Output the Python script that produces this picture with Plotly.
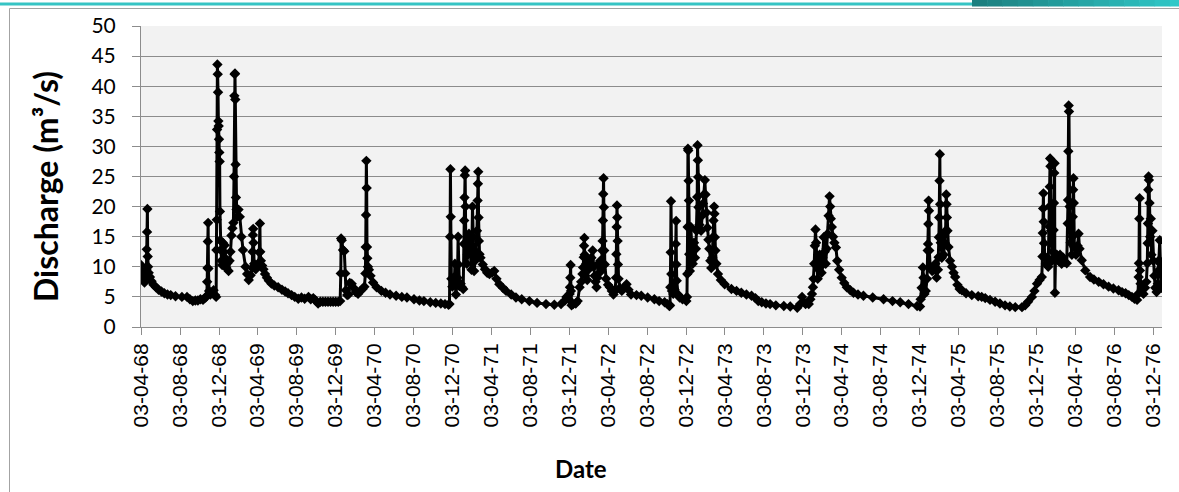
import plotly.graph_objects as go

# ---------------- data ----------------
season_1968 = [
    ("1968-04-03", 10.3), ("1968-04-05", 9.0), ("1968-04-08", 8.3), ("1968-04-11", 7.9),
    ("1968-04-14", 7.4), ("1968-04-17", 8.6), ("1968-04-20", 9.6), ("1968-04-21", 12.9),
    ("1968-04-22", 15.8), ("1968-04-23", 19.6), ("1968-04-24", 11.7), ("1968-04-25", 10.0),
    ("1968-04-27", 9.0), ("1968-05-01", 8.3), ("1968-05-06", 7.6), ("1968-05-12", 7.0),
    ("1968-05-20", 6.6), ("1968-05-28", 6.2), ("1968-06-06", 5.9), ("1968-06-15", 5.6),
    ("1968-06-25", 5.4), ("1968-07-05", 5.3), ("1968-07-20", 5.1), ("1968-08-09", 5.0),
    ("1968-08-25", 5.0), ("1968-09-03", 4.6), ("1968-09-12", 4.3), ("1968-09-20", 4.4),
    ("1968-09-28", 4.4), ("1968-10-06", 4.6), ("1968-10-14", 4.5), ("1968-10-22", 4.9),
    ("1968-10-26", 5.2), ("1968-10-27", 7.5), ("1968-10-28", 9.8), ("1968-10-29", 14.2),
    ("1968-10-30", 17.3), ("1968-10-31", 9.7), ("1968-11-02", 6.0), ("1968-11-06", 5.4),
    ("1968-11-11", 5.7), ("1968-11-16", 6.1), ("1968-11-21", 5.3), ("1968-11-24", 5.0),
    ("1968-11-25", 12.8), ("1968-11-26", 17.8), ("1968-11-27", 32.8), ("1968-11-28", 43.6),
    ("1968-11-29", 42.0), ("1968-11-30", 39.0), ("1968-12-01", 34.2), ("1968-12-02", 33.4),
    ("1968-12-03", 31.2), ("1968-12-04", 29.0), ("1968-12-05", 27.5), ("1968-12-06", 19.2),
    ("1968-12-07", 14.4), ("1968-12-09", 12.8), ("1968-12-11", 11.0), ("1968-12-13", 10.3),
    ("1968-12-15", 14.0), ("1968-12-17", 12.5), ("1968-12-19", 10.6), ("1968-12-21", 13.6),
    ("1968-12-23", 11.4), ("1968-12-26", 9.8), ("1968-12-29", 10.6), ("1969-01-02", 9.3),
    ("1969-01-05", 11.0), ("1969-01-08", 12.5), ("1969-01-11", 15.2), ("1969-01-14", 16.4),
    ("1969-01-17", 17.3), ("1969-01-19", 25.0), ("1969-01-20", 38.4), ("1969-01-21", 42.0),
    ("1969-01-22", 42.1), ("1969-01-23", 37.8), ("1969-01-24", 27.0), ("1969-01-25", 21.5),
    ("1969-01-27", 19.5), ("1969-01-29", 18.3), ("1969-02-02", 19.5), ("1969-02-06", 18.3),
    ("1969-02-11", 15.0), ("1969-02-16", 12.8), ("1969-02-24", 10.0), ("1969-03-01", 8.8),
    ("1969-03-06", 7.8), ("1969-03-12", 8.6), ("1969-03-17", 9.8), ("1969-03-18", 12.5),
    ("1969-03-19", 15.3), ("1969-03-20", 16.3), ("1969-03-21", 14.0), ("1969-03-23", 10.5),
    ("1969-03-28", 9.6), ("1969-04-03", 10.2), ("1969-04-06", 10.5), ("1969-04-08", 12.4),
    ("1969-04-10", 17.2), ("1969-04-11", 12.5), ("1969-04-13", 11.0), ("1969-04-17", 10.2),
    ("1969-04-21", 9.6),
]

season_1969 = [
    ("1969-04-26", 8.8), ("1969-05-02", 8.2), ("1969-05-08", 7.7), ("1969-05-16", 7.2),
    ("1969-05-25", 6.9), ("1969-06-06", 6.6), ("1969-06-18", 6.2), ("1969-06-28", 5.9),
    ("1969-07-07", 5.6), ("1969-07-18", 5.3), ("1969-07-28", 5.0), ("1969-08-08", 4.7),
    ("1969-08-18", 4.9), ("1969-08-28", 4.7), ("1969-09-09", 5.0), ("1969-09-16", 4.6),
    ("1969-09-24", 4.8), ("1969-10-01", 4.4), ("1969-10-09", 3.9), ("1969-10-16", 4.2),
    ("1969-10-24", 4.2), ("1969-11-01", 4.2), ("1969-11-09", 4.2), ("1969-11-17", 4.2),
    ("1969-11-25", 4.2), ("1969-12-03", 4.2), ("1969-12-11", 4.2), ("1969-12-17", 4.3),
    ("1969-12-19", 8.9), ("1969-12-20", 14.7), ("1969-12-22", 14.4), ("1969-12-26", 12.8),
    ("1969-12-30", 12.6), ("1970-01-02", 8.9), ("1970-01-04", 6.1), ("1970-01-08", 5.3),
    ("1970-01-12", 5.4), ("1970-01-16", 7.3), ("1970-01-22", 7.2), ("1970-01-28", 6.5),
    ("1970-02-04", 5.8), ("1970-02-11", 5.5), ("1970-02-18", 6.0), ("1970-02-25", 6.3),
    ("1970-03-03", 6.7), ("1970-03-06", 8.9), ("1970-03-07", 13.3), ("1970-03-08", 18.6),
    ("1970-03-09", 27.6), ("1970-03-10", 23.1), ("1970-03-11", 13.3), ("1970-03-12", 11.4),
    ("1970-03-14", 10.0), ("1970-03-17", 9.5), ("1970-03-22", 8.5), ("1970-03-30", 7.4),
    ("1970-04-10", 6.6), ("1970-04-25", 6.0), ("1970-05-08", 5.7), ("1970-05-22", 5.4),
    ("1970-06-10", 5.2), ("1970-06-28", 5.0), ("1970-07-14", 4.9), ("1970-08-05", 4.6),
    ("1970-08-22", 4.4), ("1970-09-05", 4.3), ("1970-09-25", 4.1), ("1970-10-12", 4.0),
    ("1970-10-28", 3.9), ("1970-11-10", 3.8), ("1970-11-21", 3.7),
]

season_1970 = [
    ("1970-11-24", 3.8), ("1970-11-26", 15.0), ("1970-11-27", 26.2), ("1970-11-28", 18.3),
    ("1970-11-30", 8.0), ("1970-12-03", 6.7), ("1970-12-06", 8.2), ("1970-12-09", 7.0),
    ("1970-12-11", 10.5), ("1970-12-14", 5.4), ("1970-12-17", 7.0), ("1970-12-19", 8.2),
    ("1970-12-21", 15.0), ("1970-12-22", 10.4), ("1970-12-25", 6.8), ("1970-12-29", 7.2),
    ("1971-01-02", 6.6), ("1971-01-06", 6.3), ("1971-01-08", 13.8), ("1971-01-09", 17.7),
    ("1971-01-10", 21.5), ("1971-01-11", 25.2), ("1971-01-12", 26.0), ("1971-01-13", 20.0),
    ("1971-01-14", 14.0), ("1971-01-17", 10.5), ("1971-01-20", 12.0), ("1971-01-24", 15.5),
    ("1971-01-28", 13.0), ("1971-02-01", 9.5), ("1971-02-04", 20.0), ("1971-02-06", 15.0),
    ("1971-02-09", 9.3), ("1971-02-12", 11.0), ("1971-02-15", 12.5), ("1971-02-18", 16.0),
    ("1971-02-20", 21.0), ("1971-02-21", 23.8), ("1971-02-22", 25.8), ("1971-02-23", 18.2),
    ("1971-02-24", 14.3), ("1971-02-26", 12.1), ("1971-03-01", 11.5), ("1971-03-08", 10.4),
    ("1971-03-15", 9.6), ("1971-03-22", 9.0), ("1971-03-29", 8.8), ("1971-04-06", 9.0),
    ("1971-04-13", 9.3), ("1971-04-20", 8.0), ("1971-04-29", 7.1), ("1971-05-10", 6.5),
    ("1971-05-20", 6.0), ("1971-06-05", 5.4), ("1971-06-20", 4.9), ("1971-07-08", 4.6),
    ("1971-08-01", 4.3), ("1971-08-25", 4.0), ("1971-09-22", 3.8), ("1971-10-18", 3.7),
    ("1971-11-08", 3.8), ("1971-11-20", 4.4), ("1971-11-25", 5.0),
]

season_1971 = [
    ("1971-12-02", 4.6), ("1971-12-05", 5.5), ("1971-12-06", 6.6), ("1971-12-07", 8.2),
    ("1971-12-08", 10.3), ("1971-12-09", 6.0), ("1971-12-11", 3.6), ("1971-12-16", 3.8),
    ("1971-12-24", 3.9), ("1971-12-30", 4.3), ("1972-01-05", 6.6), ("1972-01-10", 7.5),
    ("1972-01-14", 8.8), ("1972-01-16", 9.9), ("1972-01-18", 11.6), ("1972-01-19", 13.5),
    ("1972-01-20", 14.8), ("1972-01-21", 12.0), ("1972-01-23", 8.5), ("1972-01-26", 10.5),
    ("1972-01-29", 7.8), ("1972-02-01", 9.5), ("1972-02-04", 11.0), ("1972-02-07", 10.0),
    ("1972-02-11", 11.5), ("1972-02-15", 12.7), ("1972-02-18", 10.0), ("1972-02-21", 8.5),
    ("1972-02-24", 7.5), ("1972-02-27", 6.6), ("1972-03-01", 8.2), ("1972-03-04", 10.5),
    ("1972-03-07", 9.0), ("1972-03-10", 11.0), ("1972-03-13", 9.5), ("1972-03-16", 12.7),
    ("1972-03-17", 14.3), ("1972-03-18", 17.7), ("1972-03-19", 22.1), ("1972-03-20", 24.7),
    ("1972-03-21", 19.9), ("1972-03-22", 12.7), ("1972-03-24", 10.4), ("1972-03-28", 8.0),
    ("1972-04-03", 7.0), ("1972-04-09", 6.6), ("1972-04-15", 6.0), ("1972-04-20", 5.4),
    ("1972-04-25", 6.0), ("1972-04-28", 8.2), ("1972-04-29", 12.1), ("1972-04-30", 16.6),
    ("1972-05-01", 20.2), ("1972-05-02", 18.2), ("1972-05-03", 14.3), ("1972-05-04", 10.4),
    ("1972-05-06", 8.0), ("1972-05-10", 6.5), ("1972-05-16", 6.0), ("1972-05-24", 6.6),
    ("1972-05-31", 7.1), ("1972-06-06", 6.2), ("1972-06-14", 5.4), ("1972-07-01", 5.3),
    ("1972-07-16", 5.2), ("1972-08-05", 4.9), ("1972-08-26", 4.6), ("1972-09-10", 4.3),
    ("1972-09-27", 4.1), ("1972-10-06", 3.8), ("1972-10-12", 3.5), ("1972-10-14", 3.6),
]

season_1972 = [
    ("1972-10-15", 6.6), ("1972-10-16", 12.4), ("1972-10-17", 20.9), ("1972-10-18", 8.8),
    ("1972-10-20", 6.0), ("1972-10-24", 5.5), ("1972-10-28", 6.2), ("1972-10-31", 10.4),
    ("1972-11-01", 13.8), ("1972-11-02", 17.6), ("1972-11-03", 10.4), ("1972-11-04", 7.7),
    ("1972-11-08", 5.4), ("1972-11-13", 4.9), ("1972-11-22", 4.6), ("1972-12-04", 4.3),
    ("1972-12-06", 5.0), ("1972-12-07", 8.8), ("1972-12-08", 16.6), ("1972-12-09", 29.6),
    ("1972-12-10", 29.3), ("1972-12-11", 24.3), ("1972-12-12", 21.0), ("1972-12-13", 12.1),
    ("1972-12-15", 9.3), ("1972-12-18", 16.6), ("1972-12-21", 12.0), ("1972-12-24", 10.5),
    ("1972-12-28", 14.0), ("1972-12-31", 11.5), ("1973-01-03", 13.0), ("1973-01-05", 16.0),
    ("1973-01-07", 21.6), ("1973-01-08", 30.2), ("1973-01-09", 27.7), ("1973-01-10", 24.9),
    ("1973-01-11", 19.9), ("1973-01-14", 17.0), ("1973-01-19", 16.0), ("1973-01-22", 18.5),
    ("1973-01-25", 20.5), ("1973-01-28", 22.0), ("1973-01-31", 24.4), ("1973-02-02", 22.0),
    ("1973-02-05", 19.0), ("1973-02-08", 16.5), ("1973-02-11", 14.5), ("1973-02-14", 13.0),
    ("1973-02-17", 11.0), ("1973-02-20", 9.8), ("1973-02-23", 11.5), ("1973-02-25", 14.9),
    ("1973-02-27", 17.7), ("1973-03-01", 20.0), ("1973-03-02", 18.8), ("1973-03-03", 14.9),
    ("1973-03-05", 12.7), ("1973-03-08", 10.5), ("1973-03-13", 8.8), ("1973-03-22", 7.8),
    ("1973-04-03", 7.1), ("1973-04-24", 6.3), ("1973-05-10", 6.0), ("1973-05-25", 5.7),
    ("1973-06-10", 5.4), ("1973-06-26", 5.2), ("1973-07-08", 4.8), ("1973-07-17", 4.3),
    ("1973-07-28", 4.1), ("1973-08-10", 3.9), ("1973-08-23", 3.8), ("1973-09-10", 3.6),
    ("1973-10-05", 3.5), ("1973-10-25", 3.4), ("1973-11-16", 3.2), ("1973-11-25", 3.8),
    ("1973-12-01", 5.0), ("1973-12-05", 4.2), ("1973-12-12", 3.8), ("1973-12-22", 3.8),
]

season_1973 = [
    ("1973-12-27", 4.6), ("1974-01-01", 5.5), ("1974-01-04", 6.6), ("1974-01-06", 8.0),
    ("1974-01-08", 10.5), ("1974-01-10", 13.5), ("1974-01-12", 16.2), ("1974-01-14", 14.0),
    ("1974-01-16", 10.5), ("1974-01-19", 8.0), ("1974-01-22", 9.5), ("1974-01-25", 12.0),
    ("1974-01-28", 10.0), ("1974-01-31", 9.0), ("1974-02-03", 11.5), ("1974-02-07", 14.9),
    ("1974-02-10", 12.5), ("1974-02-13", 10.5), ("1974-02-16", 13.0), ("1974-02-19", 15.5),
    ("1974-02-22", 18.5), ("1974-02-25", 21.7), ("1974-02-27", 20.0), ("1974-03-01", 18.0),
    ("1974-03-04", 16.6), ("1974-03-08", 15.0), ("1974-03-12", 14.0), ("1974-03-17", 13.2),
    ("1974-03-21", 11.0), ("1974-03-27", 9.5), ("1974-04-04", 8.2), ("1974-04-12", 7.3),
    ("1974-04-20", 6.6), ("1974-05-01", 6.1), ("1974-05-11", 5.7), ("1974-05-25", 5.4),
    ("1974-06-11", 5.2), ("1974-07-10", 4.9), ("1974-08-13", 4.6), ("1974-09-10", 4.3),
    ("1974-10-04", 4.1), ("1974-10-30", 3.8), ("1974-11-26", 3.5), ("1974-12-05", 3.4),
]

season_1974 = [
    ("1974-12-07", 4.6), ("1974-12-10", 6.5), ("1974-12-14", 9.9), ("1974-12-16", 8.2),
    ("1974-12-19", 5.5), ("1974-12-23", 6.0), ("1974-12-27", 8.0), ("1974-12-29", 12.7),
    ("1974-12-30", 13.8), ("1974-12-31", 17.1), ("1975-01-01", 21.0), ("1975-01-02", 19.3),
    ("1975-01-03", 12.7), ("1975-01-06", 10.0), ("1975-01-12", 9.3), ("1975-01-17", 9.5),
    ("1975-01-22", 10.5), ("1975-01-26", 8.2), ("1975-01-30", 9.5), ("1975-02-01", 11.6),
    ("1975-02-02", 14.9), ("1975-02-03", 18.2), ("1975-02-04", 24.3), ("1975-02-05", 28.7),
    ("1975-02-06", 20.4), ("1975-02-08", 14.0), ("1975-02-11", 11.5), ("1975-02-14", 15.0),
    ("1975-02-17", 12.0), ("1975-02-20", 14.0), ("1975-02-23", 16.0), ("1975-02-25", 22.0),
    ("1975-02-26", 20.4), ("1975-02-27", 18.2), ("1975-03-01", 16.0), ("1975-03-04", 13.3),
    ("1975-03-09", 11.0), ("1975-03-15", 10.0), ("1975-03-20", 9.0), ("1975-03-25", 8.3),
    ("1975-04-01", 7.0), ("1975-04-08", 6.3), ("1975-04-15", 6.1), ("1975-04-28", 5.6),
    ("1975-05-16", 5.3), ("1975-06-05", 5.1), ("1975-06-16", 5.0), ("1975-06-27", 4.8),
    ("1975-07-12", 4.5), ("1975-07-28", 4.2), ("1975-08-12", 3.9), ("1975-08-28", 3.6),
    ("1975-09-12", 3.4), ("1975-09-29", 3.3), ("1975-10-20", 3.3), ("1975-10-30", 3.6),
    ("1975-11-08", 4.2), ("1975-11-20", 5.0), ("1975-11-28", 6.0), ("1975-12-06", 7.2),
    ("1975-12-14", 7.8), ("1975-12-21", 8.3),
]

season_1975 = [
    ("1975-12-23", 11.7), ("1975-12-24", 15.6), ("1975-12-25", 19.7), ("1975-12-26", 22.2),
    ("1975-12-27", 17.5), ("1975-12-28", 13.9), ("1975-12-30", 11.7), ("1976-01-03", 10.5),
    ("1976-01-07", 11.5), ("1976-01-10", 10.0), ("1976-01-13", 16.7), ("1976-01-14", 20.0),
    ("1976-01-15", 23.3), ("1976-01-16", 28.0), ("1976-01-17", 26.7), ("1976-01-19", 16.0),
    ("1976-01-22", 11.0), ("1976-01-25", 12.5), ("1976-01-27", 16.1), ("1976-01-28", 20.6),
    ("1976-01-29", 25.6), ("1976-01-30", 27.2), ("1976-01-31", 5.7), ("1976-02-02", 11.7),
    ("1976-02-06", 12.0), ("1976-02-11", 11.0), ("1976-02-16", 12.0), ("1976-02-21", 10.5),
    ("1976-02-26", 11.5), ("1976-03-02", 10.8), ("1976-03-08", 10.6), ("1976-03-11", 17.2),
    ("1976-03-12", 21.1), ("1976-03-13", 29.2), ("1976-03-14", 36.8), ("1976-03-15", 35.8),
    ("1976-03-17", 20.0), ("1976-03-20", 14.0), ("1976-03-24", 12.0), ("1976-03-26", 15.0),
    ("1976-03-27", 18.3), ("1976-03-28", 22.8), ("1976-03-29", 24.7), ("1976-03-30", 20.6),
    ("1976-04-01", 13.3), ("1976-04-06", 12.0), ("1976-04-11", 13.5), ("1976-04-14", 15.5),
    ("1976-04-17", 13.0), ("1976-04-24", 11.1), ("1976-05-05", 9.4), ("1976-05-20", 8.3),
    ("1976-06-01", 7.9), ("1976-06-16", 7.5), ("1976-07-01", 7.1), ("1976-07-17", 6.7),
    ("1976-08-01", 6.4), ("1976-08-17", 6.1), ("1976-08-28", 5.8), ("1976-09-08", 5.6),
    ("1976-09-18", 5.3), ("1976-09-28", 5.0), ("1976-10-06", 4.7), ("1976-10-14", 4.5),
    ("1976-10-17", 5.5), ("1976-10-19", 8.3), ("1976-10-20", 10.6), ("1976-10-21", 18.0),
    ("1976-10-22", 21.4), ("1976-10-23", 9.4), ("1976-10-25", 7.2), ("1976-10-29", 6.2),
    ("1976-11-03", 5.5), ("1976-11-08", 6.5), ("1976-11-12", 7.5), ("1976-11-15", 10.6),
    ("1976-11-16", 13.9), ("1976-11-17", 17.2), ("1976-11-18", 22.8), ("1976-11-19", 25.0),
    ("1976-11-20", 24.4), ("1976-11-22", 20.6), ("1976-11-24", 15.0), ("1976-11-26", 18.0),
    ("1976-11-28", 12.0), ("1976-12-01", 16.0), ("1976-12-04", 11.0), ("1976-12-07", 8.5),
    ("1976-12-10", 6.5), ("1976-12-14", 5.8), ("1976-12-18", 7.2), ("1976-12-20", 9.4),
    ("1976-12-22", 11.1), ("1976-12-24", 14.4), ("1976-12-26", 10.5), ("1976-12-28", 7.0),
    ("1976-12-30", 6.5),
]

tick_dates = [f"19{yy}-{mm}-03" for yy in range(68, 77) for mm in ("04", "08", "12")]
y_ticks = [0, 5, 10, 15, 20, 25, 30, 35, 40, 45, 50]
x_title = "Date"
y_title = "Discharge (m³/s)"

# ---------------- figure ----------------
seasons = [season_1968, season_1969, season_1970, season_1971,
           season_1972, season_1973, season_1974, season_1975]
dates = [d for s in seasons for d, _ in s]
flows = [q for s in seasons for _, q in s]

W, H = 1179, 492
L, R, T, B = 141, 1162, 26, 327


def pxp(x):
    return (x - L) / (R - L)


def pyp(y):
    return (B - y) / (B - T)


fig = go.Figure()
fig.add_trace(go.Scatter(
    x=dates, y=flows, mode="lines+markers",
    line=dict(color="#000000", width=3),
    marker=dict(symbol="diamond", size=8, color="#000000"),
    showlegend=False, hoverinfo="skip",
))

shapes = []
# chart-area border (left and top visible)
shapes.append(dict(type="line", xref="paper", yref="paper", x0=pxp(9.5), x1=pxp(9.5),
                   y0=pyp(8.5), y1=pyp(495), line=dict(color="#a3a3a3", width=1)))
shapes.append(dict(type="line", xref="paper", yref="paper", x0=pxp(9.5), x1=pxp(1185),
                   y0=pyp(8.5), y1=pyp(8.5), line=dict(color="#a3a3a3", width=1)))
# teal decorative band on top
shapes.append(dict(type="rect", xref="paper", yref="paper", x0=pxp(-5), x1=pxp(1185),
                   y0=pyp(5.5), y1=pyp(2.5), line=dict(width=0), fillcolor="#36c4c4"))
n = 14
x_start = 972
for i in range(n):
    t = i / (n - 1)
    r = int(0x1c + (0x30 - 0x1c) * t)
    g = int(0x80 + (0xc8 - 0x80) * t)
    b = int(0x80 + (0xc8 - 0x80) * t)
    xa = x_start + (1185 - x_start) * i / n
    xb = x_start + (1185 - x_start) * (i + 1) / n + 0.5
    shapes.append(dict(type="rect", xref="paper", yref="paper", x0=pxp(xa), x1=pxp(xb),
                       y0=pyp(6.5), y1=pyp(-2), line=dict(width=0),
                       fillcolor=f"rgb({r},{g},{b})"))

fig.update_layout(
    width=W, height=H,
    margin=dict(l=L, r=W - R, t=T, b=H - B),
    paper_bgcolor="#ffffff",
    plot_bgcolor="#f2f2f2",
    shapes=shapes,
    annotations=[
        dict(text=f"<b>{x_title}</b>", xref="paper", yref="paper",
             x=pxp(581), y=pyp(468), showarrow=False,
             font=dict(family="Lato", size=24, color="#000000"),
             xanchor="center", yanchor="middle"),
        dict(text=f"<b>{y_title}</b>", xref="paper", yref="paper",
             x=pxp(45), y=pyp(187), showarrow=False, textangle=-90,
             font=dict(family="Lato", size=32, color="#000000"),
             xanchor="center", yanchor="middle"),
    ],
    xaxis=dict(
        type="date",
        range=["1968-04-03", "1976-12-31"],
        tickvals=tick_dates,
        tickformat="%d-%m-%y",
        tickangle=-90,
        ticks="outside", ticklen=7, tickcolor="#8c8c8c", tickwidth=1,
        showgrid=False, zeroline=False,
        showline=True, linecolor="#8c8c8c", linewidth=1,
        tickfont=dict(family="Liberation Sans", size=21, color="#000000"),
        fixedrange=True,
    ),
    yaxis=dict(
        range=[0, 50],
        tickvals=y_ticks,
        ticks="outside", ticklen=8, tickcolor="#8c8c8c", tickwidth=1,
        showgrid=True, gridcolor="#8c8c8c", gridwidth=1,
        zeroline=False,
        showline=True, linecolor="#8c8c8c", linewidth=1,
        ticklabelstandoff=12,
        tickfont=dict(family="Lato", size=21, color="#000000"),
        fixedrange=True,
    ),
)

fig.write_html("out.html",
               config={"displayModeBar": False, "staticPlot": True},
               post_script="document.body.style.margin='0px';document.body.style.padding='0px';")
